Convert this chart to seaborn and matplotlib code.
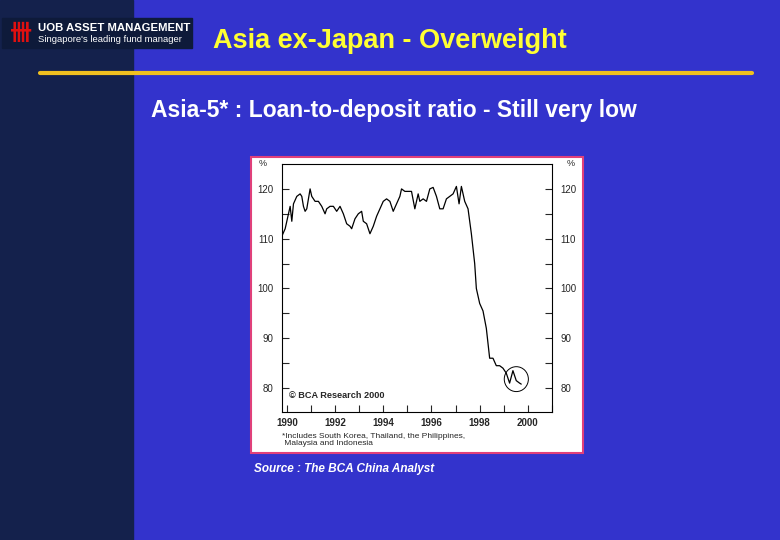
import numpy as np
import seaborn as sns
import matplotlib.pyplot as plt
from matplotlib.patches import Rectangle, Ellipse

# x position in the zoomed chart, value in %
zoom_x = [95, 105, 115, 120, 125, 130, 140, 150, 155, 160, 165, 170, 180, 185, 195, 205,
          215, 225, 230, 240, 250, 260, 270, 280, 290, 300, 305, 315, 325, 335, 340, 350,
          360, 370, 380, 390, 400, 410, 420, 430, 440, 450, 455, 465, 475, 485, 495, 505,
          510, 520, 530, 540, 550, 560, 570, 580, 590, 600, 610, 620, 628, 635, 645, 655,
          665, 675, 680, 690, 700, 710, 720, 730, 740, 750, 760, 770, 780, 790, 800, 810, 815]
ratio = [110.5, 112, 115, 116.5, 113.5, 117, 118.5, 119, 118.5, 116.5, 115.5, 116, 120, 118.5,
         117.5, 117.5, 116.5, 115, 116, 116.5, 116.5, 115.5, 116.5, 115, 113, 112.5, 112, 114,
         115, 115.5, 113.5, 113, 111, 112.5, 114.5, 116, 117.5, 118, 117.5, 115.5, 117, 118.5,
         120, 119.5, 119.5, 119.5, 116, 119, 117.5, 118, 117.5, 120, 120.3, 118.5, 116, 116,
         118, 118.5, 119, 120.5, 117, 120.5, 117.5, 116, 111, 105, 100, 97, 95.5, 92, 86, 86,
         84.5, 84.5, 84, 83, 81, 83.5, 81.5, 81, 80.8]
years = [1990 + (z - 110) / 72.5 for z in zoom_x]

x_ticks = [1990, 1992, 1994, 1996, 1998, 2000]
y_ticks = [80, 90, 100, 110, 120]

sns.set_style("white")
plt.rcParams['font.family'] = ['Liberation Sans', 'DejaVu Sans']

fig = plt.figure(figsize=(7.8, 5.4), dpi=100)
fig.patch.set_facecolor("#3333cc")

# slide decorations
fig.add_artist(Rectangle((0, 0), 133 / 780, 1, transform=fig.transFigure, color="#14214c", zorder=0))
fig.add_artist(Rectangle((2 / 780, 1 - 48 / 540), 190 / 780, 30 / 540, transform=fig.transFigure,
                         color="#0e1a3a", zorder=1))
fig.text(10 / 780, 1 - 33 / 540, "卌", color="#e01010", fontsize=16, va="center",
         family=['Noto Sans CJK SC', 'DejaVu Sans'], fontweight="bold")
fig.text(38 / 780, 1 - 28 / 540, "UOB ASSET MANAGEMENT", color="white", fontsize=8.2,
         fontweight="bold", va="center")
fig.text(38 / 780, 1 - 40 / 540, "Singapore's leading fund manager", color="white", fontsize=6.8, va="center")
fig.add_artist(plt.Line2D([40 / 780, 752 / 780], [1 - 73 / 540] * 2, color="#f0c020", lw=3))
fig.text(390 / 780, 1 - 41 / 540, "Asia ex-Japan - Overweight", color="#ffff33", fontsize=19.5,
         fontweight="bold", ha="center", va="center")
fig.text(151 / 780, 1 - 111 / 540, "Asia-5* : Loan-to-deposit ratio - Still very low", color="white",
         fontsize=16.5, fontweight="bold", va="center")
fig.add_artist(Rectangle((251 / 780, 1 - 453 / 540), 332 / 780, 296 / 540, transform=fig.transFigure,
                         facecolor="white", edgecolor="#e0407a", lw=1.5, zorder=1))
fig.text(254 / 780, 1 - 469 / 540, "Source : The BCA China Analyst", color="white", fontsize=8.5,
         fontweight="bold", fontstyle="italic", va="center")

ax = fig.add_axes([282 / 780, 1 - 412 / 540, 270 / 780, 248 / 540], zorder=2)
ax.set_facecolor("white")
sns.lineplot(x=years, y=ratio, ax=ax, color="black", lw=0.9)
ax.add_patch(Ellipse((1999.52, 81.8), 1.0, 5.0, fill=False, color="black", lw=0.7))
ax.set_xlim(1989.8, 2001.0)
ax.set_ylim(75.2, 125)
ax.set_xticks(x_ticks)
ax.set_xticklabels([str(t) for t in x_ticks], fontsize=7, fontweight="bold")
ax.set_yticks(y_ticks)
ax.set_yticks([85, 95, 105, 115], minor=True)
ax.set_yticklabels([str(t) for t in y_ticks], fontsize=7)
ax.set_xticks(np.arange(1991, 2002, 2), minor=True)
ax.tick_params(which="both", direction="in", length=5, width=0.8, right=True, bottom=True, left=True,
               labelright=True, pad=6)
ax.tick_params(axis="x", pad=4)
for s in ax.spines.values():
    s.set_color("black")
    s.set_linewidth(0.8)
ax.text(-0.07, 1.0, "%", transform=ax.transAxes, fontsize=6.5, ha="center", va="center")
ax.text(1.07, 1.0, "%", transform=ax.transAxes, fontsize=6.5, ha="center", va="center")
ax.text(1990.1, 78, "© BCA Research 2000", fontsize=6.6, fontweight="bold")
fig.text(282 / 780, 1 - 440 / 540, "*Includes South Korea, Thailand, the Philippines,\n Malaysia and Indonesia",
         fontsize=6, va="center", zorder=3, linespacing=1.1)

fig.savefig("out.png", dpi=100, facecolor=fig.get_facecolor())
